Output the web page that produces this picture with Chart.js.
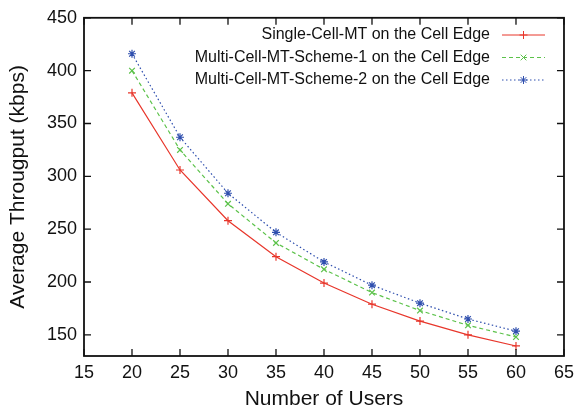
<!DOCTYPE html>
<html>
<head>
<meta charset="utf-8">
<script src="https://cdn.jsdelivr.net/npm/chart.js@4.4.1/dist/chart.umd.min.js"></script>
<style>
  html, body { margin: 0; padding: 0; background: #fff; }
</style>
</head>
<body>
<div style="width:580px;height:414px"><canvas id="chart" width="580" height="414"></canvas></div>
<script>
// data
const users = [20, 25, 30, 35, 40, 45, 50, 55, 60];
const singleCell = [379, 306, 258, 224, 199, 179, 163, 150, 139.5];
const multiScheme1 = [400, 325, 274, 237, 212, 190, 173, 159, 148];
const multiScheme2 = [416, 337, 284, 247, 219, 197, 180, 165, 153.5];
const xTicks = [15, 20, 25, 30, 35, 40, 45, 50, 55, 60, 65];
const yTicks = [150, 200, 250, 300, 350, 400, 450];

const FONT = '"Liberation Sans", Arial, sans-serif';

// gnuplot-style frame: black box with inward ticks on all sides, legend top right
const framePlugin = {
  id: "frame",
  afterDraw(chart) {
    const { ctx, chartArea: a, scales } = chart;
    ctx.save();
    ctx.strokeStyle = "#111";
    ctx.lineWidth = 1.8;
    ctx.strokeRect(a.left, a.top, a.right - a.left, a.bottom - a.top);
    ctx.lineWidth = 1.3;
    const len = 7;
    xTicks.forEach(v => {
      const x = scales.x.getPixelForValue(v);
      ctx.beginPath();
      ctx.moveTo(x, a.bottom); ctx.lineTo(x, a.bottom - len);
      ctx.moveTo(x, a.top); ctx.lineTo(x, a.top + len);
      ctx.stroke();
    });
    yTicks.forEach(v => {
      const y = scales.y.getPixelForValue(v);
      ctx.beginPath();
      ctx.moveTo(a.left, y); ctx.lineTo(a.left + len, y);
      ctx.moveTo(a.right, y); ctx.lineTo(a.right - len, y);
      ctx.stroke();
    });

    // legend
    ctx.font = "16px " + FONT;
    ctx.textAlign = "right";
    ctx.textBaseline = "middle";
    const textRight = 490, x0 = 502, x1 = 545;
    chart.data.datasets.forEach((ds, i) => {
      const y = 35 + i * 22.5;
      ctx.fillStyle = "#111";
      ctx.fillText(ds.label, textRight, y);
      ctx.strokeStyle = ds.borderColor;
      ctx.lineWidth = 1;
      ctx.setLineDash(ds.borderDash || []);
      ctx.beginPath();
      ctx.moveTo(x0, y); ctx.lineTo(x1, y);
      ctx.stroke();
      ctx.setLineDash([]);
      Chart.helpers.drawPoint(ctx, {
        pointStyle: ds.pointStyle,
        radius: ds.pointRadius,
        borderWidth: ds.pointBorderWidth,
        rotation: 0
      }, (x0 + x1) / 2, y);
    });
    ctx.restore();
  }
};

new Chart(document.getElementById("chart"), {
  type: "line",
  data: {
    labels: users,
    datasets: [
      {
        label: "Single-Cell-MT on the Cell Edge",
        data: singleCell,
        borderColor: "#e8362b",
        backgroundColor: "#e8362b",
        borderWidth: 1.2,
        pointStyle: "cross",
        pointRadius: 4,
        pointBorderWidth: 1.2,
        fill: false,
      },
      {
        label: "Multi-Cell-MT-Scheme-1 on the Cell Edge",
        data: multiScheme1,
        borderColor: "#5cc24a",
        backgroundColor: "#5cc24a",
        borderWidth: 1.2,
        borderDash: [4, 3],
        pointStyle: "crossRot",
        pointRadius: 4,
        pointBorderWidth: 1.2,
        fill: false,
      },
      {
        label: "Multi-Cell-MT-Scheme-2 on the Cell Edge",
        data: multiScheme2,
        borderColor: "#2f4fae",
        backgroundColor: "#2f4fae",
        borderWidth: 1.2,
        borderDash: [1.5, 2.5],
        pointStyle: "star",
        pointRadius: 4,
        pointBorderWidth: 1.2,
        fill: false,
      },
    ],
  },
  options: {
    responsive: false,
    animation: false,
    layout: { padding: { top: 15, right: 14, left: 0, bottom: 0 } },
    plugins: {
      legend: { display: false },
      tooltip: { enabled: false },
    },
    scales: {
      x: {
        type: "linear",
        min: 15,
        max: 65,
        afterBuildTicks: s => { s.ticks = xTicks.map(v => ({ value: v })); },
        afterFit: s => { s.height = 58; },
        grid: { display: false, drawTicks: false },
        border: { display: false },
        ticks: { color: "#111", font: { size: 18, family: FONT }, padding: 6 },
        title: { display: true, text: "Number of Users", color: "#111", font: { size: 21, family: FONT }, padding: { top: 4, bottom: 2 } },
      },
      y: {
        min: 130,
        max: 450,
        afterBuildTicks: s => { s.ticks = yTicks.map(v => ({ value: v })); },
        afterFit: s => { s.width = 84; },
        grid: { display: false, drawTicks: false },
        border: { display: false },
        ticks: { color: "#111", font: { size: 18, family: FONT }, padding: 7 },
        title: { display: true, text: "Average Througput (kbps)", color: "#111", font: { size: 21, family: FONT }, padding: { top: 5.5, bottom: 4 } },
      },
    },
  },
  plugins: [framePlugin],
});
</script>
</body>
</html>
